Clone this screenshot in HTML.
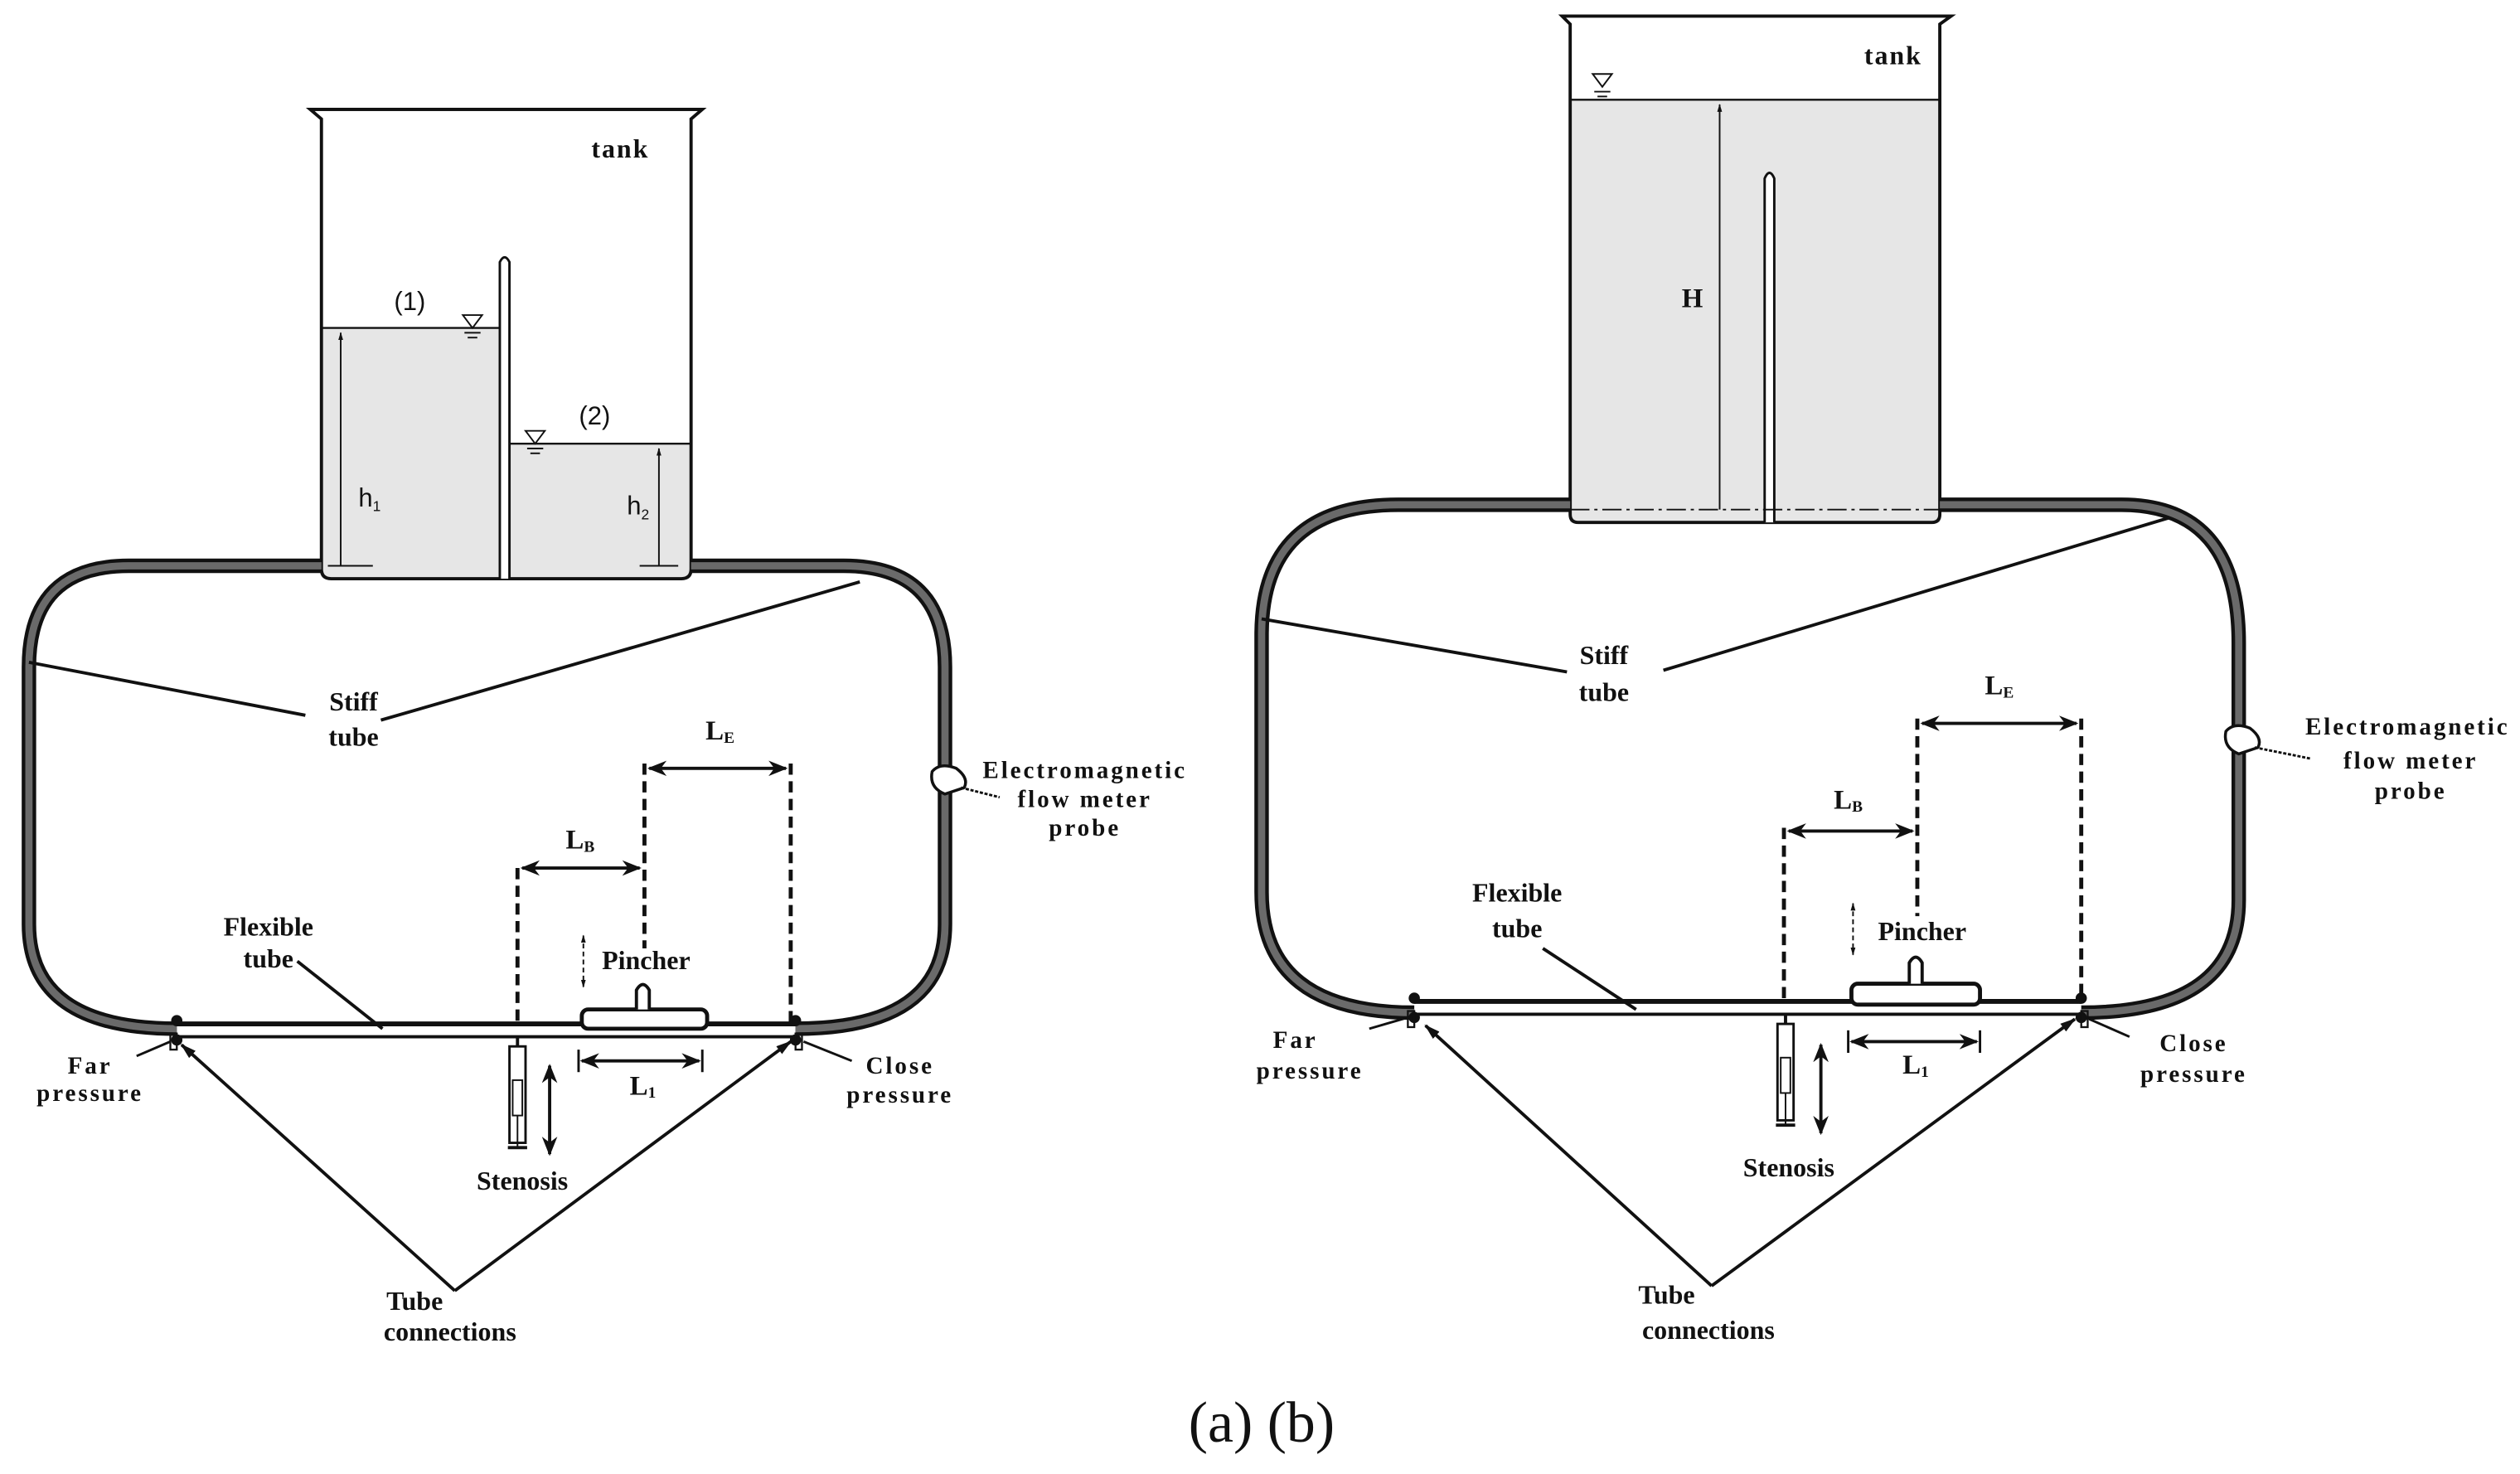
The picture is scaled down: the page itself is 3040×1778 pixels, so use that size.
<!DOCTYPE html>
<html><head><meta charset="utf-8"><style>
html,body{margin:0;padding:0;background:#fff}
svg{display:block}
text{font-family:"Liberation Serif",serif;font-weight:bold;fill:#111}
.s{font-family:"Liberation Sans",sans-serif;font-weight:normal}
</style></head><body>
<svg width="3040" height="1778" viewBox="0 0 1568 917" xmlns="http://www.w3.org/2000/svg">
<defs>
<marker id="a" viewBox="0 0 10 10" refX="9" refY="5" markerWidth="6" markerHeight="6" orient="auto-start-reverse"><path d="M0,1 L10,5 L0,9 L3,5z" fill="#111"/></marker>
<marker id="t" viewBox="0 0 10 10" refX="9" refY="5" markerWidth="5" markerHeight="5" orient="auto-start-reverse"><path d="M0,2 L10,5 L0,8z" fill="#111"/></marker>
</defs>
<g fill="none" stroke="#111">
<!-- LEFT -->
<rect x="200" y="204" width="111" height="155" fill="#e6e6e6" stroke="none"/>
<rect x="317" y="276" width="113" height="83" fill="#e6e6e6" stroke="none"/>
<path d="M193,68 L200,74 L200,354 Q200,360 206,360 L424,360 Q430,360 430,354 L430,74 L437,68 Z" stroke-width="2"/>
<line x1="193" y1="68" x2="437" y2="68" stroke-width="2"/>
<line x1="200" y1="204" x2="311" y2="204" stroke-width="1.2"/>
<line x1="317" y1="276" x2="430" y2="276" stroke-width="1.2"/>
<path d="M311,360 L311,163 Q314,157 317,163 L317,360" fill="#fff" stroke-width="1.5"/>
<line x1="204" y1="352" x2="232" y2="352" stroke-width="1"/>
<line x1="212" y1="352" x2="212" y2="207" stroke-width="1" marker-end="url(#t)"/>
<line x1="398" y1="352" x2="422" y2="352" stroke-width="1"/>
<line x1="410" y1="352" x2="410" y2="279" stroke-width="1" marker-end="url(#t)"/>
<path d="M288,196 L300,196 L294,204 Z" stroke-width="1"/><line x1="289" y1="207" x2="299" y2="207" stroke-width="1"/><line x1="291" y1="210" x2="297" y2="210" stroke-width="1"/>
<path d="M327,268 L339,268 L333,276 Z" stroke-width="1"/><line x1="328" y1="279" x2="338" y2="279" stroke-width="1"/><line x1="330" y1="282" x2="336" y2="282" stroke-width="1"/>
<path d="M200,352 L80,352 Q18,352 18,415 L18,575 Q18,640 110,640 M430,352 L525,352 Q588,352 588,415 L588,575 Q588,640 495,640" stroke-width="9"/>
<path d="M200,352 L80,352 Q18,352 18,415 L18,575 Q18,640 110,640 M430,352 L525,352 Q588,352 588,415 L588,575 Q588,640 495,640" stroke="#6a6a6a" stroke-width="4.5"/>
<line x1="110" y1="637" x2="495" y2="637" stroke-width="3"/>
<line x1="110" y1="645" x2="495" y2="645" stroke-width="2"/>
<circle cx="110" cy="635" r="3" fill="#111"/><circle cx="110" cy="647" r="3" fill="#111"/>
<circle cx="495" cy="635" r="3" fill="#111"/><circle cx="495" cy="647" r="3" fill="#111"/>
<rect x="106" y="643" width="4" height="10" stroke-width="1.2"/><rect x="495" y="643" width="4" height="10" stroke-width="1.2"/>
<line x1="18" y1="412" x2="190" y2="445" stroke-width="2"/>
<line x1="237" y1="448" x2="535" y2="362" stroke-width="2"/>
<line x1="401" y1="475" x2="401" y2="590" stroke-width="2.5" stroke-dasharray="7,4"/>
<line x1="492" y1="475" x2="492" y2="637" stroke-width="2.5" stroke-dasharray="7,4"/>
<line x1="322" y1="540" x2="322" y2="637" stroke-width="2.5" stroke-dasharray="7,4"/>
<line x1="404" y1="478" x2="489" y2="478" stroke-width="2" marker-start="url(#a)" marker-end="url(#a)"/>
<line x1="325" y1="540" x2="398" y2="540" stroke-width="2" marker-start="url(#a)" marker-end="url(#a)"/>
<rect x="362" y="628" width="78" height="12" rx="4" fill="#fff" stroke-width="2.5"/>
<path d="M396,628 L396,616 Q400,609 404,616 L404,628" fill="#fff" stroke-width="2"/>
<line x1="363" y1="582" x2="363" y2="614" stroke-width="1" stroke-dasharray="3,2" marker-start="url(#t)" marker-end="url(#t)"/>
<line x1="360" y1="653" x2="360" y2="667" stroke-width="1.5"/><line x1="437" y1="653" x2="437" y2="667" stroke-width="1.5"/>
<line x1="362" y1="660" x2="435" y2="660" stroke-width="2" marker-start="url(#a)" marker-end="url(#a)"/>
<rect x="317" y="651" width="10" height="60" stroke-width="1.5"/><rect x="319" y="672" width="6" height="22" stroke-width="1"/>
<line x1="322" y1="645" x2="322" y2="651" stroke-width="2"/><line x1="316" y1="714" x2="328" y2="714" stroke-width="2"/><line x1="322" y1="694" x2="322" y2="714" stroke-width="1"/>
<line x1="342" y1="663" x2="342" y2="718" stroke-width="2" marker-start="url(#a)" marker-end="url(#a)"/>
<line x1="185" y1="598" x2="238" y2="640" stroke-width="2"/>
<line x1="85" y1="657" x2="106" y2="648" stroke-width="1.5"/>
<line x1="530" y1="660" x2="500" y2="648" stroke-width="1.5"/>
<path d="M580,480 Q585,474 595,478 Q603,484 600,490 L588,494 Q578,490 580,480 Z" fill="#fff" stroke-width="1.8"/>
<line x1="598" y1="490" x2="622" y2="496" stroke-width="1.5" stroke-dasharray="2,1"/>
<line x1="283" y1="803" x2="113" y2="650" stroke-width="2" marker-end="url(#t)"/>
<line x1="283" y1="803" x2="492" y2="648" stroke-width="2" marker-end="url(#t)"/>
<!-- RIGHT -->
<rect x="977" y="62" width="230" height="263" fill="#e6e6e6" stroke="none"/>
<path d="M972,10 L977,15 L977,320 Q977,325 982,325 L1202,325 Q1207,325 1207,320 L1207,15 L1214,10 Z" stroke-width="2"/>
<line x1="977" y1="62" x2="1207" y2="62" stroke-width="1.2"/>
<path d="M1098,325 L1098,111 Q1101,104 1104,111 L1104,325" fill="#fff" stroke-width="1.5"/>
<line x1="977" y1="317" x2="1207" y2="317" stroke-width="1" stroke-dasharray="12,3,2,3"/>
<line x1="1070" y1="317" x2="1070" y2="65" stroke-width="1" marker-end="url(#t)"/>
<path d="M991,46 L1003,46 L997,54 Z" stroke-width="1"/><line x1="992" y1="57" x2="1002" y2="57" stroke-width="1"/><line x1="994" y1="60" x2="1000" y2="60" stroke-width="1"/>
<path d="M977,314 L870,314 Q785,314 785,395 L785,555 Q785,630 880,630 M1207,314 L1320,314 Q1393,314 1393,400 L1393,560 Q1393,630 1295,630" stroke-width="9"/>
<path d="M977,314 L870,314 Q785,314 785,395 L785,555 Q785,630 880,630 M1207,314 L1320,314 Q1393,314 1393,400 L1393,560 Q1393,630 1295,630" stroke="#6a6a6a" stroke-width="4.5"/>
<line x1="880" y1="623" x2="1295" y2="623" stroke-width="3"/>
<line x1="880" y1="631" x2="1295" y2="631" stroke-width="2"/>
<circle cx="880" cy="621" r="3" fill="#111"/><circle cx="880" cy="633" r="3" fill="#111"/>
<circle cx="1295" cy="621" r="3" fill="#111"/><circle cx="1295" cy="633" r="3" fill="#111"/>
<rect x="876" y="629" width="4" height="10" stroke-width="1.2"/><rect x="1295" y="629" width="4" height="10" stroke-width="1.2"/>
<line x1="785" y1="385" x2="975" y2="418" stroke-width="2"/>
<line x1="1035" y1="417" x2="1350" y2="322" stroke-width="2"/>
<line x1="1193" y1="447" x2="1193" y2="570" stroke-width="2.5" stroke-dasharray="7,4"/>
<line x1="1295" y1="447" x2="1295" y2="623" stroke-width="2.5" stroke-dasharray="7,4"/>
<line x1="1110" y1="515" x2="1110" y2="623" stroke-width="2.5" stroke-dasharray="7,4"/>
<line x1="1196" y1="450" x2="1292" y2="450" stroke-width="2" marker-start="url(#a)" marker-end="url(#a)"/>
<line x1="1113" y1="517" x2="1190" y2="517" stroke-width="2" marker-start="url(#a)" marker-end="url(#a)"/>
<rect x="1152" y="612" width="80" height="13" rx="4" fill="#fff" stroke-width="2.5"/>
<path d="M1188,612 L1188,599 Q1192,592 1196,599 L1196,612" fill="#fff" stroke-width="2"/>
<line x1="1153" y1="562" x2="1153" y2="594" stroke-width="1" stroke-dasharray="3,2" marker-start="url(#t)" marker-end="url(#t)"/>
<line x1="1150" y1="641" x2="1150" y2="655" stroke-width="1.5"/><line x1="1232" y1="641" x2="1232" y2="655" stroke-width="1.5"/>
<line x1="1152" y1="648" x2="1230" y2="648" stroke-width="2" marker-start="url(#a)" marker-end="url(#a)"/>
<rect x="1106" y="637" width="10" height="60" stroke-width="1.5"/><rect x="1108" y="658" width="6" height="22" stroke-width="1"/>
<line x1="1111" y1="631" x2="1111" y2="637" stroke-width="2"/><line x1="1105" y1="700" x2="1117" y2="700" stroke-width="2"/><line x1="1111" y1="680" x2="1111" y2="700" stroke-width="1"/>
<line x1="1133" y1="650" x2="1133" y2="705" stroke-width="2" marker-start="url(#a)" marker-end="url(#a)"/>
<line x1="960" y1="590" x2="1018" y2="628" stroke-width="2"/>
<line x1="852" y1="640" x2="876" y2="633" stroke-width="1.5"/>
<line x1="1325" y1="645" x2="1300" y2="634" stroke-width="1.5"/>
<path d="M1385,455 Q1390,449 1400,453 Q1408,459 1405,465 L1393,469 Q1383,465 1385,455 Z" fill="#fff" stroke-width="1.8"/>
<line x1="1403" y1="465" x2="1438" y2="472" stroke-width="1.5" stroke-dasharray="2,1"/>
<line x1="1065" y1="800" x2="887" y2="638" stroke-width="2" marker-end="url(#t)"/>
<line x1="1065" y1="800" x2="1291" y2="634" stroke-width="2" marker-end="url(#t)"/>
</g>
<g font-size="16.5" text-anchor="middle">
<text x="386" y="98" letter-spacing="1">tank</text>
<text x="255" y="193" class="s" font-size="16">(1)</text>
<text x="370" y="264" class="s" font-size="16">(2)</text>
<text x="230" y="315" class="s" font-size="16">h<tspan font-size="9" dy="3">1</tspan></text>
<text x="397" y="320" class="s" font-size="16">h<tspan font-size="9" dy="3">2</tspan></text>
<text x="220" y="442">Stiff</text><text x="220" y="464">tube</text>
<text x="448" y="460" font-size="17">L<tspan font-size="10" dy="2">E</tspan></text>
<text x="361" y="528" font-size="17">L<tspan font-size="10" dy="2">B</tspan></text>
<text x="402" y="603">Pincher</text>
<text x="400" y="681" font-size="17">L<tspan font-size="10" dy="2">1</tspan></text>
<text x="325" y="740">Stenosis</text>
<text x="167" y="582">Flexible</text><text x="167" y="602">tube</text>
<text x="56" y="668" font-size="15" letter-spacing="1.5">Far</text><text x="56" y="685" font-size="15" letter-spacing="1.5">pressure</text>
<text x="560" y="668" font-size="15" letter-spacing="1.5">Close</text><text x="560" y="686" font-size="15" letter-spacing="1.5">pressure</text>
<text x="675" y="484" font-size="15" letter-spacing="1.5">Electromagnetic</text><text x="675" y="502" font-size="15" letter-spacing="1.5">flow meter</text><text x="675" y="520" font-size="15" letter-spacing="1.5">probe</text>
<text x="258" y="815">Tube</text><text x="280" y="834">connections</text>
<text x="1178" y="40" letter-spacing="1">tank</text>
<text x="1053" y="191" font-size="17">H</text>
<text x="998" y="413">Stiff</text><text x="998" y="436">tube</text>
<text x="1244" y="432" font-size="17">L<tspan font-size="10" dy="2">E</tspan></text>
<text x="1150" y="503" font-size="17">L<tspan font-size="10" dy="2">B</tspan></text>
<text x="1196" y="585">Pincher</text>
<text x="1192" y="668" font-size="17">L<tspan font-size="10" dy="2">1</tspan></text>
<text x="1113" y="732">Stenosis</text>
<text x="944" y="561">Flexible</text><text x="944" y="583">tube</text>
<text x="806" y="652" font-size="15" letter-spacing="1.5">Far</text><text x="815" y="671" font-size="15" letter-spacing="1.5">pressure</text>
<text x="1365" y="654" font-size="15" letter-spacing="1.5">Close</text><text x="1365" y="673" font-size="15" letter-spacing="1.5">pressure</text>
<text x="1498" y="457" font-size="15" letter-spacing="1.5">Electromagnetic</text><text x="1500" y="478" font-size="15" letter-spacing="1.5">flow meter</text><text x="1500" y="497" font-size="15" letter-spacing="1.5">probe</text>
<text x="1037" y="811">Tube</text><text x="1063" y="833">connections</text>
<text x="785" y="897" font-size="36" style="font-weight:normal">(a) (b)</text>
</g>
</svg>
</body></html>
